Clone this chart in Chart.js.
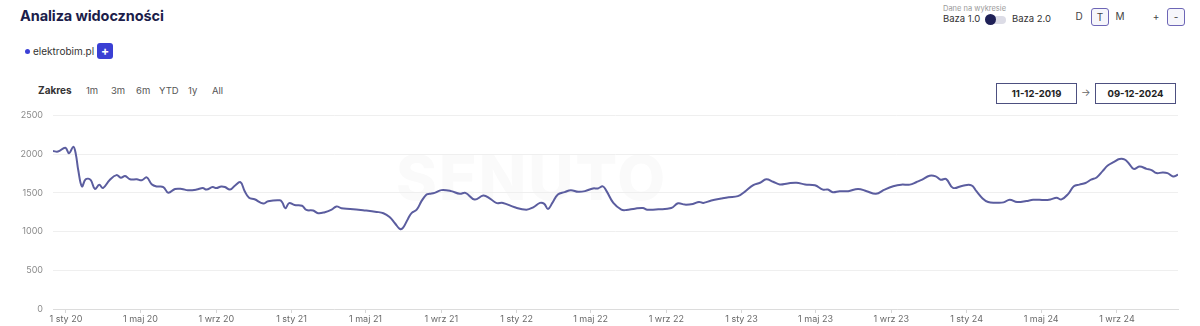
<!DOCTYPE html>
<html>
<head>
<meta charset="utf-8">
<script src="https://cdn.jsdelivr.net/npm/chart.js@4"></script>
<style>
  body { margin: 0; width: 1200px; height: 326px; background: #fff; font-family: Inter, "Noto Sans", sans-serif; overflow: hidden; position: relative; color: #333; }
  .abs { position: absolute; white-space: nowrap; }
  .title { left: 20px; top: 7px; font-size: 14.5px; font-weight: 700; color: #1c1d4a; letter-spacing: -0.1px; }
  .legend-dot { left: 25px; top: 49px; width: 5px; height: 5px; border-radius: 50%; background: #3b40d6; }
  .legend-text { left: 33px; top: 45px; font-size: 10px; color: #333; }
  .plus-btn { left: 97px; top: 43px; width: 16px; height: 16px; border-radius: 3px; background: #3a3fd4; color: #fff; font-size: 12px; font-weight: 700; text-align: center; line-height: 15px; }
  .dane { left: 943px; top: 4px; font-size: 7.5px; color: #9a9a9a; }
  .baza1 { left: 943px; top: 13px; font-size: 9.5px; color: #333; }
  .baza2 { left: 1012px; top: 13px; font-size: 9.5px; color: #333; }
  .track { left: 988px; top: 16px; width: 18px; height: 8px; border-radius: 4px; background: #dcdce6; }
  .knob { left: 985px; top: 14px; width: 11px; height: 11px; border-radius: 50%; background: #1f2157; }
  .btn { top: 8px; width: 16px; height: 16px; font-size: 10px; color: #444; text-align: center; line-height: 16px; }
  .btn.boxed { border: 1.5px solid #6d66b6; border-radius: 3px; background: #f6f6fb; }
  .zakres { left: 38px; top: 84px; font-size: 10px; font-weight: 700; color: #333; }
  .range { top: 85px; font-size: 9.5px; color: #555; }
  .datebox { top: 83px; width: 79px; height: 19px; border: 1.5px solid #4d5080; font-size: 9.5px; font-weight: 700; color: #222; text-align: center; line-height: 19px; }
  .arrow { left: 1081px; top: 86px; font-size: 10px; color: #666; }
  .watermark { left: 396px; top: 140px; font-size: 62px; font-weight: 800; color: #fafafa; letter-spacing: 2px; }
  #chartWrap { position: absolute; left: 0; top: 100px; width: 1200px; height: 226px; }
</style>
</head>
<body>
<div class="abs watermark">SENUTO</div>
<div class="abs title">Analiza widoczności</div>
<div class="abs legend-dot"></div>
<div class="abs legend-text">elektrobim.pl</div>
<div class="abs plus-btn">+</div>

<div class="abs dane">Dane na wykresie</div>
<div class="abs baza1">Baza 1.0</div>
<div class="abs track"></div>
<div class="abs knob"></div>
<div class="abs baza2">Baza 2.0</div>

<div class="abs btn" style="left:1071px">D</div>
<div class="abs btn boxed" style="left:1091px">T</div>
<div class="abs btn" style="left:1112px">M</div>
<div class="abs btn" style="left:1148px">+</div>
<div class="abs btn boxed" style="left:1167px">-</div>

<div class="abs zakres">Zakres</div>
<div class="abs range" style="left:86px">1m</div>
<div class="abs range" style="left:111px">3m</div>
<div class="abs range" style="left:136px">6m</div>
<div class="abs range" style="left:159px">YTD</div>
<div class="abs range" style="left:188px">1y</div>
<div class="abs range" style="left:212px">All</div>

<div class="abs datebox" style="left:996px">11-12-2019</div>
<div class="abs arrow">→</div>
<div class="abs datebox" style="left:1095px">09-12-2024</div>

<div id="chartWrap"><canvas id="visChart"></canvas></div>

<script>
// chart range
const startDate = '2019-12-11';
const endDate = '2024-12-09';

// visibility series (elektrobim.pl)
const dates = [
  '2019-12-11', '2019-12-19', '2019-12-31', '2020-01-06', '2020-01-13', '2020-01-17', '2020-01-21', '2020-01-27',
  '2020-02-02', '2020-02-10', '2020-02-17', '2020-02-24', '2020-03-01', '2020-03-12', '2020-03-23', '2020-03-30',
  '2020-04-06', '2020-04-14', '2020-04-25', '2020-05-03', '2020-05-11', '2020-05-19', '2020-05-27', '2020-06-07',
  '2020-06-15', '2020-06-26', '2020-07-07', '2020-07-17', '2020-07-31', '2020-08-10', '2020-08-16', '2020-08-26',
  '2020-09-01', '2020-09-09', '2020-09-15', '2020-09-23', '2020-10-01', '2020-10-10', '2020-10-17', '2020-10-24',
  '2020-11-02', '2020-11-16', '2020-11-24', '2020-12-13', '2020-12-17', '2020-12-22', '2020-12-28', '2021-01-06',
  '2021-01-18', '2021-01-25', '2021-02-05', '2021-02-13', '2021-02-24', '2021-03-07', '2021-03-15', '2021-03-23',
  '2021-04-06', '2021-04-27', '2021-05-19', '2021-05-30', '2021-06-09', '2021-06-18', '2021-06-26', '2021-07-01',
  '2021-07-09', '2021-07-15', '2021-07-23', '2021-07-31', '2021-08-08', '2021-08-13', '2021-08-21', '2021-09-01',
  '2021-09-17', '2021-10-01', '2021-10-10', '2021-10-25', '2021-11-08', '2021-11-19', '2021-11-29', '2021-12-10',
  '2021-12-29', '2022-01-17', '2022-01-28', '2022-02-08', '2022-02-15', '2022-02-21', '2022-02-28', '2022-03-09',
  '2022-03-20', '2022-03-30', '2022-04-11', '2022-04-22', '2022-05-05', '2022-05-13', '2022-05-21', '2022-05-27',
  '2022-06-07', '2022-06-20', '2022-06-28', '2022-07-12', '2022-07-25', '2022-08-01', '2022-08-19', '2022-09-09',
  '2022-09-20', '2022-10-01', '2022-10-14', '2022-10-24', '2022-10-31', '2022-11-13', '2022-11-29', '2022-12-11',
  '2022-12-26', '2023-01-06', '2023-01-20', '2023-01-31', '2023-02-10', '2023-02-21', '2023-03-04', '2023-03-17',
  '2023-03-31', '2023-04-14', '2023-04-30', '2023-05-13', '2023-05-21', '2023-05-29', '2023-06-09', '2023-06-23',
  '2023-07-09', '2023-07-23', '2023-08-07', '2023-08-21', '2023-09-04', '2023-09-17', '2023-10-01', '2023-10-12',
  '2023-10-21', '2023-11-02', '2023-11-12', '2023-11-20', '2023-11-29', '2023-12-10', '2023-12-26', '2024-01-09',
  '2024-01-17', '2024-01-27', '2024-02-05', '2024-02-18', '2024-03-01', '2024-03-11', '2024-03-23', '2024-04-07',
  '2024-04-18', '2024-05-07', '2024-05-16', '2024-05-26', '2024-06-03', '2024-06-14', '2024-06-23', '2024-07-02',
  '2024-07-12', '2024-07-21', '2024-07-30', '2024-08-09', '2024-08-17', '2024-08-28', '2024-09-05', '2024-09-13',
  '2024-09-20', '2024-09-28', '2024-10-08', '2024-10-19', '2024-10-27', '2024-11-04', '2024-11-14', '2024-11-22',
  '2024-12-01', '2024-12-09'
];
const visibility = [
  2040, 2033, 2083, 2012, 2096, 2000, 1792, 1583,
  1675, 1667, 1550, 1604, 1562, 1667, 1729, 1696,
  1717, 1675, 1675, 1662, 1700, 1612, 1583, 1575,
  1500, 1550, 1550, 1533, 1542, 1562, 1542, 1575,
  1562, 1583, 1575, 1542, 1592, 1637, 1521, 1437,
  1417, 1362, 1392, 1404, 1375, 1300, 1367, 1342,
  1333, 1279, 1271, 1237, 1250, 1283, 1325, 1300,
  1292, 1275, 1254, 1237, 1187, 1104, 1033, 1050,
  1167, 1242, 1283, 1396, 1479, 1487, 1500, 1535,
  1522, 1487, 1500, 1413, 1465, 1426, 1370, 1370,
  1313, 1283, 1313, 1370, 1357, 1291, 1370, 1478,
  1509, 1535, 1513, 1522, 1557, 1557, 1583, 1522,
  1370, 1283, 1278, 1296, 1304, 1283, 1287, 1304,
  1365, 1348, 1357, 1383, 1370, 1400, 1426, 1443,
  1457, 1513, 1600, 1630, 1674, 1643, 1609, 1622,
  1630, 1609, 1597, 1542, 1542, 1508, 1521, 1521,
  1551, 1521, 1487, 1542, 1585, 1606, 1606, 1640,
  1670, 1720, 1712, 1670, 1678, 1564, 1593, 1597,
  1521, 1428, 1381, 1373, 1377, 1411, 1381, 1394,
  1411, 1407, 1415, 1436, 1415, 1487, 1585, 1606,
  1627, 1670, 1699, 1784, 1852, 1903, 1937, 1933,
  1882, 1810, 1839, 1810, 1793, 1755, 1763, 1755,
  1712, 1733
];

// axis ticks
const tickDates = ['2020-01-01', '2020-05-01', '2020-09-01', '2021-01-01', '2021-05-01', '2021-09-01',
  '2022-01-01', '2022-05-01', '2022-09-01', '2023-01-01', '2023-05-01', '2023-09-01',
  '2024-01-01', '2024-05-01', '2024-09-01'];
const tickLabels = ['1 sty 20', '1 maj 20', '1 wrz 20', '1 sty 21', '1 maj 21', '1 wrz 21',
  '1 sty 22', '1 maj 22', '1 wrz 22', '1 sty 23', '1 maj 23', '1 wrz 23',
  '1 sty 24', '1 maj 24', '1 wrz 24'];
const yTicks = [0, 500, 1000, 1500, 2000, 2500];

// days since the start of the range
function dayIndex(s) {
  return Math.round((Date.parse(s) - Date.parse(startDate)) / 86400000);
}

const points = dates.map((d, i) => ({ x: dayIndex(d), y: visibility[i] }));
const tickDays = tickDates.map(dayIndex);

new Chart(document.getElementById('visChart'), {
  type: 'line',
  data: {
    datasets: [{
      label: 'elektrobim.pl',
      data: points,
      borderColor: '#5b5d9f',
      borderWidth: 2,
      pointRadius: 0,
      tension: 0.4,
      fill: false
    }]
  },
  options: {
    responsive: true,
    maintainAspectRatio: false,
    animation: false,
    layout: { padding: { top: 12, right: 22, left: 0, bottom: 0 } },
    plugins: {
      legend: { display: false },
      tooltip: { enabled: false }
    },
    scales: {
      x: {
        type: 'linear',
        min: 0,
        max: dayIndex(endDate),
        afterBuildTicks: function(scale) {
          scale.ticks = tickDays.map(v => ({ value: v }));
        },
        afterFit: function(scale) { scale.height = 17; },
        ticks: {
          autoSkip: false,
          maxRotation: 0,
          padding: 1,
          color: '#6a6a6a',
          font: { family: 'Inter, "Noto Sans", sans-serif', size: 9 },
          callback: function(value) {
            const i = tickDays.indexOf(value);
            return i >= 0 ? tickLabels[i] : '';
          }
        },
        grid: { drawOnChartArea: false, drawTicks: true, tickLength: 4, color: '#d6d6d6' },
        border: { display: true, color: '#dcdcdc' }
      },
      y: {
        min: 0,
        max: 2500,
        afterBuildTicks: function(scale) {
          scale.ticks = yTicks.map(v => ({ value: v }));
        },
        afterFit: function(scale) { scale.width = 53; },
        ticks: {
          padding: 10,
          color: '#8a8a8a',
          font: { family: 'Inter, "Noto Sans", sans-serif', size: 9 },
          callback: function(value) { return String(value); }
        },
        grid: { drawTicks: false, color: '#efefef' },
        border: { display: false }
      }
    }
  }
});
</script>
</body>
</html>
